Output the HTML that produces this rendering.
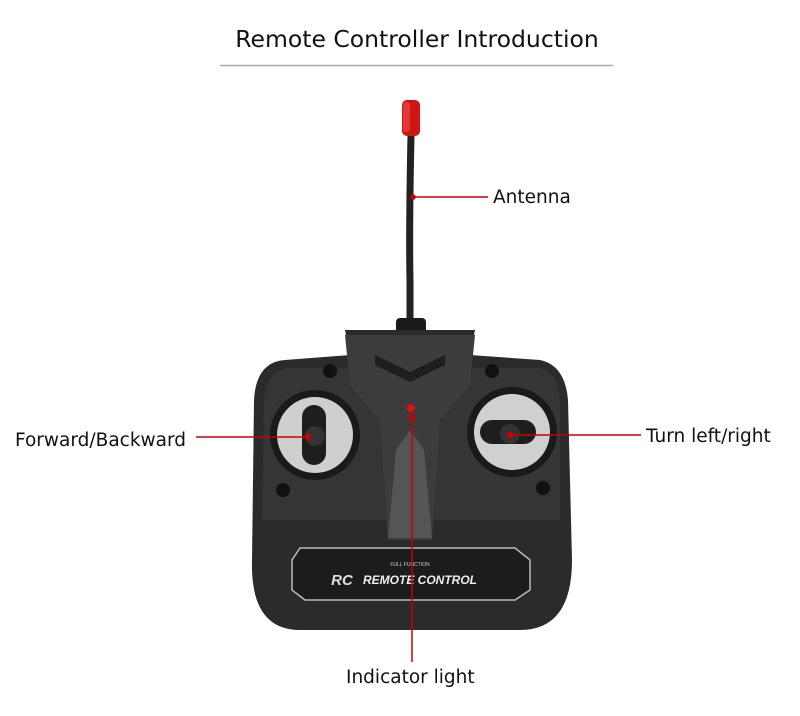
<!DOCTYPE html>
<html><head><style>
body{margin:0;background:#fff;width:800px;height:712px;overflow:hidden;font-family:"DejaVu Sans",sans-serif}
</style></head><body>
<svg width="800" height="712" viewBox="0 0 800 712" xmlns="http://www.w3.org/2000/svg">
<text x="417" y="47" font-size="23.5" text-anchor="middle" fill="#111" font-family="DejaVu Sans">Remote Controller Introduction</text>
<line x1="220" y1="65.5" x2="613" y2="65.5" stroke="#aaa" stroke-width="1.5"/>
<path d="M411 135 Q409 230 410 280 L410 328" stroke="#222" stroke-width="7" fill="none"/>
<rect x="402" y="100" width="18" height="36" rx="5" fill="#d01515"/>
<rect x="403" y="102" width="7" height="30" rx="3" fill="#f05050" opacity="0.6"/>
<rect x="396" y="318" width="30" height="18" rx="4" fill="#1a1a1a"/>
<path d="M285 360 L350 355 L345 330 L475 330 L470 355 L540 360 Q565 365 568 400 L572 560 Q572 630 520 630 L300 630 Q250 630 252 560 L254 400 Q256 362 285 360Z" fill="#2b2b2b"/>
<path d="M290 368 L540 368 Q558 372 560 400 L560 520 L262 520 L264 400 Q266 370 290 368Z" fill="#353535"/>
<path d="M345 335 L475 335 L470 385 L440 420 L432 540 L388 540 L380 420 L350 385Z" fill="#3c3c3c"/>
<path d="M396 450 L410 430 L424 450 L432 538 L388 538Z" fill="#555"/>
<path d="M375 355 L410 372 L445 355 L445 365 L410 382 L375 365Z" fill="#1e1e1e"/>
<circle cx="315" cy="435" r="45" fill="#1a1a1a"/>
<circle cx="315" cy="435" r="38" fill="#cfcfcf"/>
<rect x="302" y="405" width="24" height="60" rx="12" fill="#1e1e1e"/>
<circle cx="315" cy="436" r="10" fill="#333"/>
<circle cx="512" cy="432" r="45" fill="#1a1a1a"/>
<circle cx="512" cy="432" r="38" fill="#d0d0d0"/>
<rect x="480" y="420" width="56" height="24" rx="12" fill="#1e1e1e"/>
<circle cx="510" cy="434" r="10" fill="#333"/>
<circle cx="330" cy="371" r="7" fill="#111"/><circle cx="492" cy="371" r="7" fill="#111"/>
<circle cx="283" cy="490" r="7" fill="#111"/><circle cx="543" cy="488" r="7" fill="#111"/>
<path d="M300 548 L515 548 L530 560 L530 590 L515 600 L305 600 L292 590 L292 560Z" fill="#1c1c1c" stroke="#bbb" stroke-width="1.5"/>
<text x="410" y="566" font-size="5" fill="#ccc" text-anchor="middle" font-family="Liberation Sans">FULL FUNCTION</text>
<text x="420" y="584" font-size="12" font-style="italic" font-weight="bold" fill="#eee" text-anchor="middle" font-family="Liberation Sans">REMOTE CONTROL</text>
<text x="342" y="585" font-size="15" font-style="italic" font-weight="bold" fill="#ddd" text-anchor="middle" font-family="Liberation Sans">RC</text>
<circle cx="411" cy="408" r="4" fill="#e01010"/>
<g stroke="#c80000" stroke-width="1.5" fill="#c80000">
<line x1="413" y1="197" x2="488" y2="197"/><circle cx="413" cy="197" r="2"/>
<line x1="196" y1="437" x2="308" y2="437"/><circle cx="308" cy="437" r="2.5"/>
<line x1="510" y1="435" x2="641" y2="435"/><circle cx="510" cy="435" r="2.5"/>
<line x1="412" y1="417" x2="412" y2="662"/><circle cx="412" cy="417" r="2.5"/>
</g>
<g font-size="18.5" fill="#111" font-family="DejaVu Sans">
<text x="493" y="203">Antenna</text>
<text x="15" y="446">Forward/Backward</text>
<text x="646" y="442">Turn left/right</text>
<text x="346" y="683">Indicator light</text>
</g>
</svg>
</body></html>
